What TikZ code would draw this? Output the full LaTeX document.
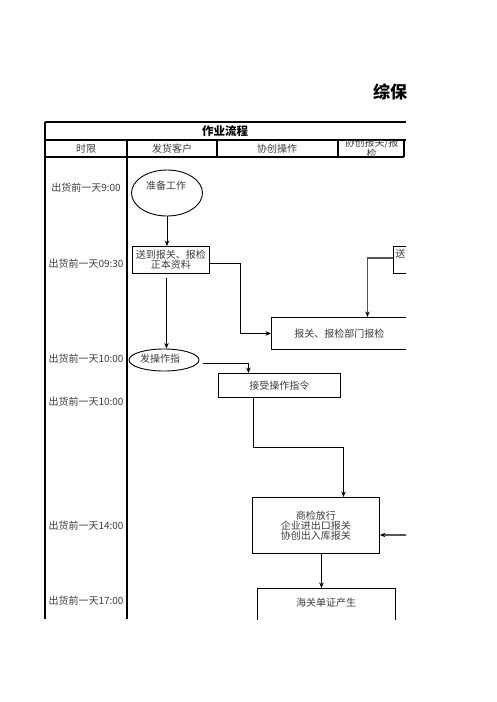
\documentclass[tikz,border=0pt]{standalone}
\usepackage{fontspec}
\setmainfont{Noto Sans CJK SC}
\usepackage{xcolor}
\usetikzlibrary{shapes.geometric, arrows.meta}
\definecolor{flowText}{RGB}{60, 60, 60}
\definecolor{flowGray}{RGB}{85, 85, 85}

\begin{document}
\begin{tikzpicture}[x=1pt, y=-1pt, font=\fontsize{10}{11}\selectfont]
    % Styles
    \tikzstyle{stepbox} = [rectangle, draw=black, line width=0.9pt, text=flowText, inner sep=1pt, align=center, anchor=north west]
    \tikzstyle{startnode} = [ellipse, draw=black, line width=0.9pt, inner sep=0pt]
    \tikzstyle{timelabel} = [text=flowText, inner sep=0pt]
    \tikzstyle{headlabel} = [text=flowText, inner sep=0pt]
    \tikzstyle{arrow} = [-{Stealth[length=5.5pt, width=4.5pt]}, line width=0.8pt, black]
    \tikzstyle{grayarrow} = [-{Stealth[length=5.5pt, width=4.5pt, color=black]}, line width=1.8pt, flowGray]
    \tikzstyle{grid} = [line width=1.1pt, black]

    \useasboundingbox (0,0) rectangle (496,702);

    \begin{scope}
    \clip (0,0) rectangle (406,619);

    % Title
    \node[font=\fontsize{17}{17}\bfseries\selectfont, anchor=west, inner sep=0pt] (title) at (373,92) {综保};

    % Table
    \draw[grid] (45,122) -- (406,122);
    \draw[grid] (45,140) -- (406,140);
    \draw[grid] (45,157) -- (404,157);
    \draw[grid] (45,122) -- (45,619);
    \draw[grid] (127,140) -- (127,619);
    \draw[grid] (217,140) -- (217,157);
    \draw[grid] (338,140) -- (338,157);
    \draw[grid] (404,140) -- (404,157);
    \node[font=\fontsize{11.5}{12}\bfseries\selectfont, inner sep=0pt] (flowhead) at (225,131) {作业流程};
    \node[headlabel] (colTime) at (86,148.5) {时限};
    \node[headlabel] (colClient) at (172,148.5) {发货客户};
    \node[headlabel] (colOps) at (277,148.5) {协创操作};
    \begin{scope}
    \clip (338,140.6) rectangle (404,156.4);
    \node[headlabel, align=center, font=\fontsize{10}{11}\selectfont] (colDecl) at (371.5,148.5) {协创报关/报\\检};
    \end{scope}

    % Time column
    \node[timelabel] (t1) at (86,188) {出货前一天9:00};
    \node[timelabel] (t2) at (86,264) {出货前一天09:30};
    \node[timelabel] (t3) at (86,359) {出货前一天10:00};
    \node[timelabel] (t4) at (86,402) {出货前一天10:00};
    \node[timelabel] (t5) at (86,526) {出货前一天14:00};
    \node[timelabel] (t6) at (86,601) {出货前一天17:00};

    % Nodes - explicit coordinates
    \node[startnode, minimum width=71pt, minimum height=46pt] (prep) at (167,193) {};
    \node[text=flowText, inner sep=0pt] (prepText) at (166,186) {准备工作};
    \node[stepbox, minimum width=77pt, minimum height=27pt] (sendDocs) at (132,246) {送到报关、报检\\[-1pt]正本资料};
    \node[stepbox, minimum width=40pt, minimum height=27pt, text width=36pt, align=left] (sendRight) at (393,246) {送\\[-1pt]\strut};
    \node[stepbox, minimum width=136pt, minimum height=32pt] (declare) at (271,317) {报关、报检部门报检};
    \node[startnode, minimum width=70pt, minimum height=22pt] (instr) at (164,360) {};
    \node[text=flowText, inner sep=0pt] (instrText) at (160,359) {发操作指};
    \node[stepbox, minimum width=122pt, minimum height=24pt] (recvInstr) at (218,373) {接受操作指令};
    \node[stepbox, minimum width=127pt, minimum height=56pt] (release) at (252,497) {商检放行\\[-1pt]企业进出口报关\\[-1pt]协创出入库报关};
    \node[stepbox, minimum width=138pt, minimum height=40pt, anchor=north] (customs) at (326,588) {};
    \node[text=flowText, inner sep=0pt] (customsText) at (326,603) {海关单证产生};
    \coordinate (fromRight) at (410,535);

    % Arrows
    \draw[arrow] (prep.south) -- (prep.south |- sendDocs.north);
    \draw[arrow, shorten <=4pt] ([xshift=-4.5pt]sendDocs.south) -- ([xshift=-4.5pt]sendDocs.south |- instr.north);
    \draw[arrow] ([yshift=-3pt]sendDocs.east) -- ++(30,0) |- (declare.west);
    \draw[grayarrow] ([yshift=2pt]sendRight.west) -| ([xshift=28pt]declare.north);
    \draw[arrow] ([xshift=4pt, yshift=-3pt]instr.east) -| ([xshift=-31pt]recvInstr.north);
    \draw[arrow] ([xshift=-26pt]recvInstr.south) -- ++(0,49) -| ([xshift=27.5pt]release.north);
    \draw[grayarrow] (fromRight) -- (fromRight -| release.east);
    \draw[arrow] ([xshift=5.5pt]release.south) -- ([xshift=5.5pt]release.south |- customs.north);
    \end{scope}
\end{tikzpicture}
\end{document}
